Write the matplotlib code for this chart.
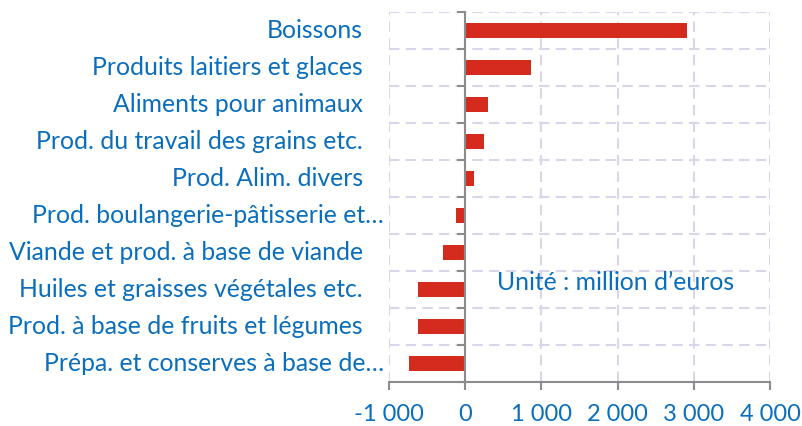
import matplotlib
matplotlib.use("Agg")
import matplotlib.pyplot as plt
import matplotlib.transforms as mtransforms
from matplotlib.ticker import FuncFormatter, FixedLocator

categories = [
    "Boissons",
    "Produits laitiers et glaces",
    "Aliments pour animaux",
    "Prod. du travail des grains etc.",
    "Prod. Alim. divers",
    "Prod. boulangerie-pâtisserie et…",
    "Viande et prod. à base de viande",
    "Huiles et graisses végétales etc.",
    "Prod. à base de fruits et légumes",
    "Prépa. et conserves à base de…",
]
values = [2910, 860, 300, 250, 120, -120, -285, -615, -625, -735]
xticks = [-1000, 0, 1000, 2000, 3000, 4000]
note = "Unité : million d’euros"

BLUE = "#0a6ebd"
RED = "#d52b1e"
GRID = "#dcd4e8"
AX = "#8c8c8c"
FONT = ["Lato", "DejaVu Sans"]

fig = plt.figure(figsize=(8.02, 4.26), dpi=100)
ax = fig.add_axes([389/802, 1 - 382/426, (770-389)/802, (382-12)/426])

n = len(categories)
ypos = list(range(n))
ax.barh(ypos, values, height=0.4, color=RED, zorder=3)
ax.set_ylim(n - 0.5, -0.5)
ax.set_xlim(-1000, 4000)

# grid
ax.xaxis.set_major_locator(FixedLocator(xticks))
for x in xticks:
    ax.axvline(x, color=GRID, lw=1.5, ls=(0, (5, 3)), zorder=1)
for b in [i - 0.5 for i in range(n + 1)]:
    ax.axhline(b, color=GRID, lw=1.5, ls=(0, (5, 3)), zorder=1)

for s in ["top", "right"]:
    ax.spines[s].set_visible(False)
ax.spines["left"].set_position(("data", 0))
ax.spines["left"].set_color(AX)
ax.spines["left"].set_linewidth(1.5)
ax.spines["left"].set_zorder(4)
ax.spines["bottom"].set_color(AX)
ax.spines["bottom"].set_linewidth(1.5)

ax.set_yticks([])
ax.set_yticks([i - 0.5 for i in range(n + 1)], minor=True)
ax.tick_params(axis="y", which="minor", length=6, width=1.5, color=AX, labelleft=False)
ax.tick_params(axis="x", length=6, width=1.5, color=AX, labelcolor=BLUE,
               labelsize=17, pad=10)
ax.xaxis.set_major_formatter(FuncFormatter(
    lambda v, p: f"{int(v):,}".replace(",", " ")))
for lab in ax.get_xticklabels():
    lab.set_family(FONT)

trans = mtransforms.blended_transform_factory(fig.transFigure, ax.transData)
for i, c in enumerate(categories):
    xr = 384 / 802 if c.endswith("…") else 363 / 802
    fig.text(xr, i, c, transform=trans, ha="right", va="center",
             color=BLUE, fontsize=17.8, family=FONT)

ax.text(497 / 802, 1 - 282 / 426, note, transform=fig.transFigure,
        ha="left", va="center", color=BLUE, fontsize=17.8, family=FONT)

fig.savefig("out.png", dpi=100)
